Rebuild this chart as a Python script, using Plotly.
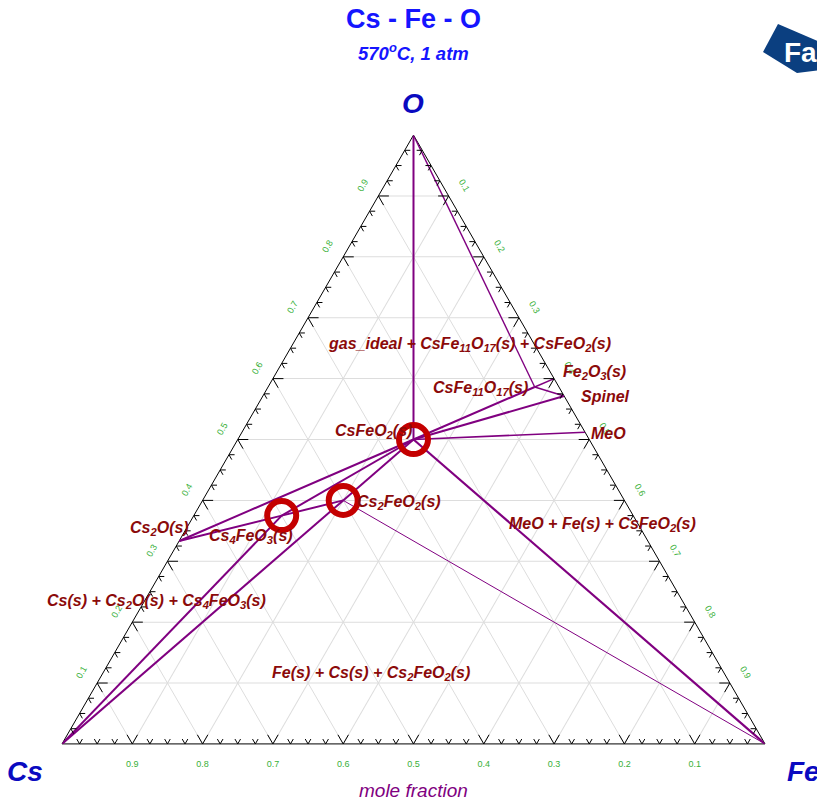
import plotly.graph_objects as go

# ---------------------------------------------------------------------------
# Cs-Fe-O isothermal section, 570 C, 1 atm  (a = O, b = Cs, c = Fe)
# ---------------------------------------------------------------------------
phase_names = ["O", "Cs", "Fe", "Cs2O", "Cs4FeO3", "Cs2FeO2", "CsFeO2",
               "CsFe11O17", "Fe2O3", "Spinel", "MeO"]
x_O = [1.0, 0.0, 0.0, 1/3, 3/8, 2/5, 1/2, 17/29, 0.60, 4/7, 0.512]
x_Cs = [0.0, 1.0, 0.0, 2/3, 4/8, 2/5, 1/4, 1/29, 0.0, 0.0, 0.0]
x_Fe = [0.0, 0.0, 1.0, 0.0, 1/8, 1/5, 1/4, 11/29, 0.40, 3/7, 0.488]

# tie lines (phase sequences) and their line widths
tie_lines = [
    ["O", "CsFeO2"],
    ["O", "CsFe11O17"],
    ["CsFe11O17", "Fe2O3"],
    ["CsFe11O17", "Spinel"],
    ["CsFeO2", "CsFe11O17"],
    ["CsFeO2", "Spinel"],
    ["CsFeO2", "MeO"],
    ["CsFeO2", "Fe"],
    ["Cs2FeO2", "Fe"],
    ["CsFeO2", "Cs2FeO2"],
    ["CsFeO2", "Cs4FeO3"],
    ["CsFeO2", "Cs2O"],
    ["Cs2O", "Cs4FeO3", "Cs2FeO2"],
    ["Cs", "Cs4FeO3"],
    ["Cs", "Cs2FeO2"],
]
tie_widths = [2, 1.4, 1.6, 1.6, 2, 2, 1.6, 2.2, 1, 2, 2, 2, 2, 2, 2]

# highlighted compounds
circled = ["CsFeO2", "Cs4FeO3", "Cs2FeO2"]

# axis tick values
tick_values = [0.1, 0.2, 0.3, 0.4, 0.5, 0.6, 0.7, 0.8, 0.9]
tick_text = ["0.1", "0.2", "0.3", "0.4", "0.5", "0.6", "0.7", "0.8", "0.9"]

# phase-field labels
label_text = [
    "gas_ideal + CsFe<sub>11</sub>O<sub>17</sub>(s) + CsFeO<sub>2</sub>(s)",
    "Fe<sub>2</sub>O<sub>3</sub>(s)",
    "CsFe<sub>11</sub>O<sub>17</sub>(s)",
    "Spinel",
    "CsFeO<sub>2</sub>(s)",
    "MeO",
    "Cs<sub>2</sub>FeO<sub>2</sub>(s)",
    "Cs<sub>2</sub>O(s)",
    "Cs<sub>4</sub>FeO<sub>3</sub>(s)",
    "MeO + Fe(s) + CsFeO<sub>2</sub>(s)",
    "Cs(s) + Cs<sub>2</sub>O(s) + Cs<sub>4</sub>FeO<sub>3</sub>(s)",
    "Fe(s) + Cs(s) + Cs<sub>2</sub>FeO<sub>2</sub>(s)",
]
# left edge x, vertical centre y (pixels)
label_x = [326, 561, 431, 579, 333, 589, 355, 128, 207, 507, 45, 270]
label_y = [344, 372, 388, 396, 431, 433, 502, 528, 536, 524, 601, 673]

W, H = 817, 802
ML, MR, MT, MB = 62, 52, 135, 58
FONT = "Arial, 'Liberation Sans', sans-serif"
PURPLE = "#800080"
DARKRED = "#8b0a0a"
GREEN = "#38b038"

idx = {n: i for i, n in enumerate(phase_names)}


def px(x):
    """pixel column -> paper x"""
    return (x - ML) / (W - ML - MR)


def py(y):
    """pixel row -> paper y"""
    return (H - MB - y) / (H - MT - MB)


fig = go.Figure()

# tie lines
for seq, lw in zip(tie_lines, tie_widths):
    fig.add_trace(go.Scatterternary(
        a=[x_O[idx[n]] for n in seq],
        b=[x_Cs[idx[n]] for n in seq],
        c=[x_Fe[idx[n]] for n in seq],
        mode="lines", line=dict(color=PURPLE, width=lw),
        hoverinfo="skip", showlegend=False))

# tick marks drawn along the two grid directions crossing each edge
ta, tb, tc = [], [], []
for k in range(1, 40):
    v = k * 0.025
    L = 0.015 if k % 4 == 0 else 0.008
    # bottom edge (Cs scale)
    for arm in [(L, v, 1 - v - L), (L, v - L, 1 - v)]:
        ta += [0, arm[0], None]; tb += [v, arm[1], None]; tc += [1 - v, arm[2], None]
    # left edge (O scale)
    for arm in [(v, 1 - v - L, L), (v - L, 1 - v, L)]:
        ta += [v, arm[0], None]; tb += [1 - v, arm[1], None]; tc += [0, arm[2], None]
    # right edge (Fe scale)
    for arm in [(1 - v - L, L, v), (1 - v, L, v - L)]:
        ta += [1 - v, arm[0], None]; tb += [0, arm[1], None]; tc += [v, arm[2], None]
fig.add_trace(go.Scatterternary(
    a=ta, b=tb, c=tc, mode="lines", line=dict(color="black", width=1),
    hoverinfo="skip", showlegend=False))

# circled compounds
fig.add_trace(go.Scatterternary(
    a=[x_O[idx[n]] for n in circled],
    b=[x_Cs[idx[n]] for n in circled],
    c=[x_Fe[idx[n]] for n in circled],
    mode="markers",
    marker=dict(symbol="circle-open", size=29, color="#c40000",
                line=dict(color="#c40000", width=6)),
    hoverinfo="skip", showlegend=False))

axis_common = dict(
    tickmode="array", tickvals=tick_values,
    ticks="", showline=True, linecolor="black", linewidth=1,
    showgrid=True, gridcolor="#dddddd", gridwidth=1,
    tickfont=dict(family=FONT, size=9, color=GREEN),
    title=dict(text=""), layer="below traces",
)

fig.update_layout(
    width=W, height=H,
    margin=dict(l=ML, r=MR, t=MT, b=MB),
    paper_bgcolor="white", plot_bgcolor="white",
    showlegend=False,
    ternary=dict(
        sum=1, bgcolor="white",
        domain=dict(x=[0, 1], y=[0, 1]),
        aaxis=dict(axis_common, tickangle=-60,
                   ticktext=[t + "<br> " for t in tick_text]),
        baxis=dict(axis_common, tickangle=0,
                   ticktext=[" <br>" + t for t in tick_text]),
        caxis=dict(axis_common, tickangle=60,
                   ticktext=[t + "<br> " for t in tick_text]),
    ),
)

annotations = [
    dict(text="<b>Cs - Fe - O</b>", x=px(413), y=py(19),
         font=dict(family=FONT, size=27, color="#1515ff")),
    dict(text="<b><i>570<sup>o</sup>C, 1 atm</i></b>", x=px(413), y=py(52),
         font=dict(family=FONT, size=18.5, color="#1515ff")),
    dict(text="<b><i>O</i></b>", x=px(413), y=py(103),
         font=dict(family=FONT, size=28, color="#0a0ac0")),
    dict(text="<b><i>Cs</i></b>", x=px(25), y=py(771),
         font=dict(family=FONT, size=28, color="#0a0ac0")),
    dict(text="<b><i>Fe</i></b>", x=px(785), y=py(771), xanchor="left",
         font=dict(family=FONT, size=28, color="#0a0ac0")),
    dict(text="<i>mole fraction</i>", x=px(413), y=py(790),
         font=dict(family=FONT, size=19, color=PURPLE)),
]
annotations = [dict(a, xref="paper", yref="paper", showarrow=False,
                    xanchor=a.get("xanchor", "center"), yanchor="middle")
               for a in annotations]

for t, lx, ly in zip(label_text, label_x, label_y):
    annotations.append(dict(
        text="<b><i>" + t + "</i></b>", x=px(lx), y=py(ly),
        xref="paper", yref="paper", showarrow=False,
        xanchor="left", yanchor="middle",
        font=dict(family=FONT, size=16, color=DARKRED)))

# logo mark in the corner
annotations.append(dict(
    text="<b>Fa</b>", x=px(782), y=py(53), xref="paper", yref="paper",
    showarrow=False, xanchor="left", yanchor="middle",
    font=dict(family=FONT, size=28, color="white")))

fig.update_layout(
    annotations=annotations,
    shapes=[dict(
        type="path", xref="paper", yref="paper",
        path=(f"M {px(778)},{py(24)} L {px(763)},{py(52)} "
              f"L {px(797)},{py(73)} L {px(822)},{py(70)} "
              f"L {px(822)},{py(43)} Z"),
        fillcolor="#0b3f80", line=dict(width=0), layer="below")],
)

fig.write_html("out.html")
